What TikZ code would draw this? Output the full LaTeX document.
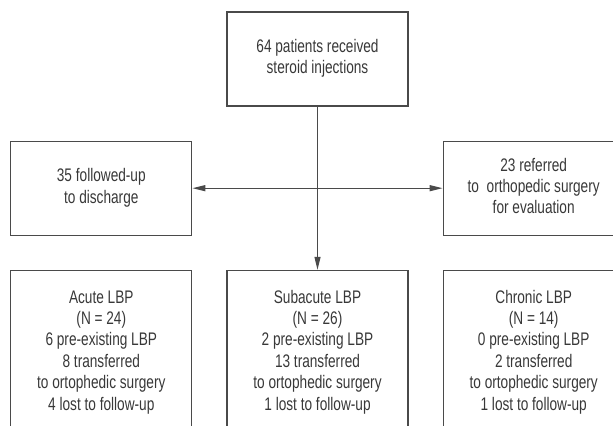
\documentclass[tikz,border=0pt]{standalone}
\usepackage{fontspec}
\setmainfont{Liberation Sans}
\usepackage{graphicx}
\usepackage{tikz}
\usetikzlibrary{arrows.meta, positioning}
\usepackage{xcolor}
\definecolor{boxline}{HTML}{4A4A4A}
\definecolor{boxtext}{HTML}{383838}
% condensed lines of text
\newcommand{\narrowtext}[1]{\scalebox{0.75}[1]{\begin{tabular}{@{}c@{}}#1\end{tabular}}}

\begin{document}
\begin{tikzpicture}[
    node distance=17pt and 17pt,
    box/.style={
        rectangle, draw=boxline, line width=0.6pt,
        minimum width=90.5pt, minimum height=47pt,
        align=center, text=boxtext,
        font=\fontsize{9.1pt}{10.7pt}\selectfont
    },
    group/.style={
        box, minimum height=82pt
    },
    arr/.style={-{Triangle[length=6.5pt, width=3pt]}, line width=0.6pt, boxline},
    dblarr/.style={{Triangle[length=6.5pt, width=3pt]}-{Triangle[length=6.5pt, width=3pt]}, line width=0.6pt, boxline},
]
\useasboundingbox (0,0) rectangle (306.5pt,-213pt);

% ── Row 1 ────────────────────────────
\node[box] (inj) at (158.75pt,-29.5pt) {\narrowtext{64 patients received\\steroid injections}};

% ── Row 2 ────────────────────────────
\node[box, below left=of inj] (disch) {\narrowtext{35 followed-up\\to discharge}};
\node[box, below right=of inj] (refer) {\narrowtext{23 referred\\to\ \ orthopedic surgery\\for evaluation}};

% ── Row 3 ────────────────────────────
\node[group, below=of disch] (acute) {\narrowtext{Acute LBP\\(N = 24)\\6 pre-existing LBP\\8 transferred\\to ortophedic surgery\\4 lost to follow-up}};
\node[group, right=of acute] (subacute) {\narrowtext{Subacute LBP\\(N = 26)\\2 pre-existing LBP\\13 transferred\\to ortophedic surgery\\1 lost to follow-up}};
\node[group, right=of subacute] (chronic) {\narrowtext{Chronic LBP\\(N = 14)\\0 pre-existing LBP\\2 transferred\\to ortophedic surgery\\1 lost to follow-up}};

% ── Connectors ───────────────────────
\draw[arr] (inj) -- (subacute);
\draw[dblarr] (disch) -- (refer);

\end{tikzpicture}
\end{document}
